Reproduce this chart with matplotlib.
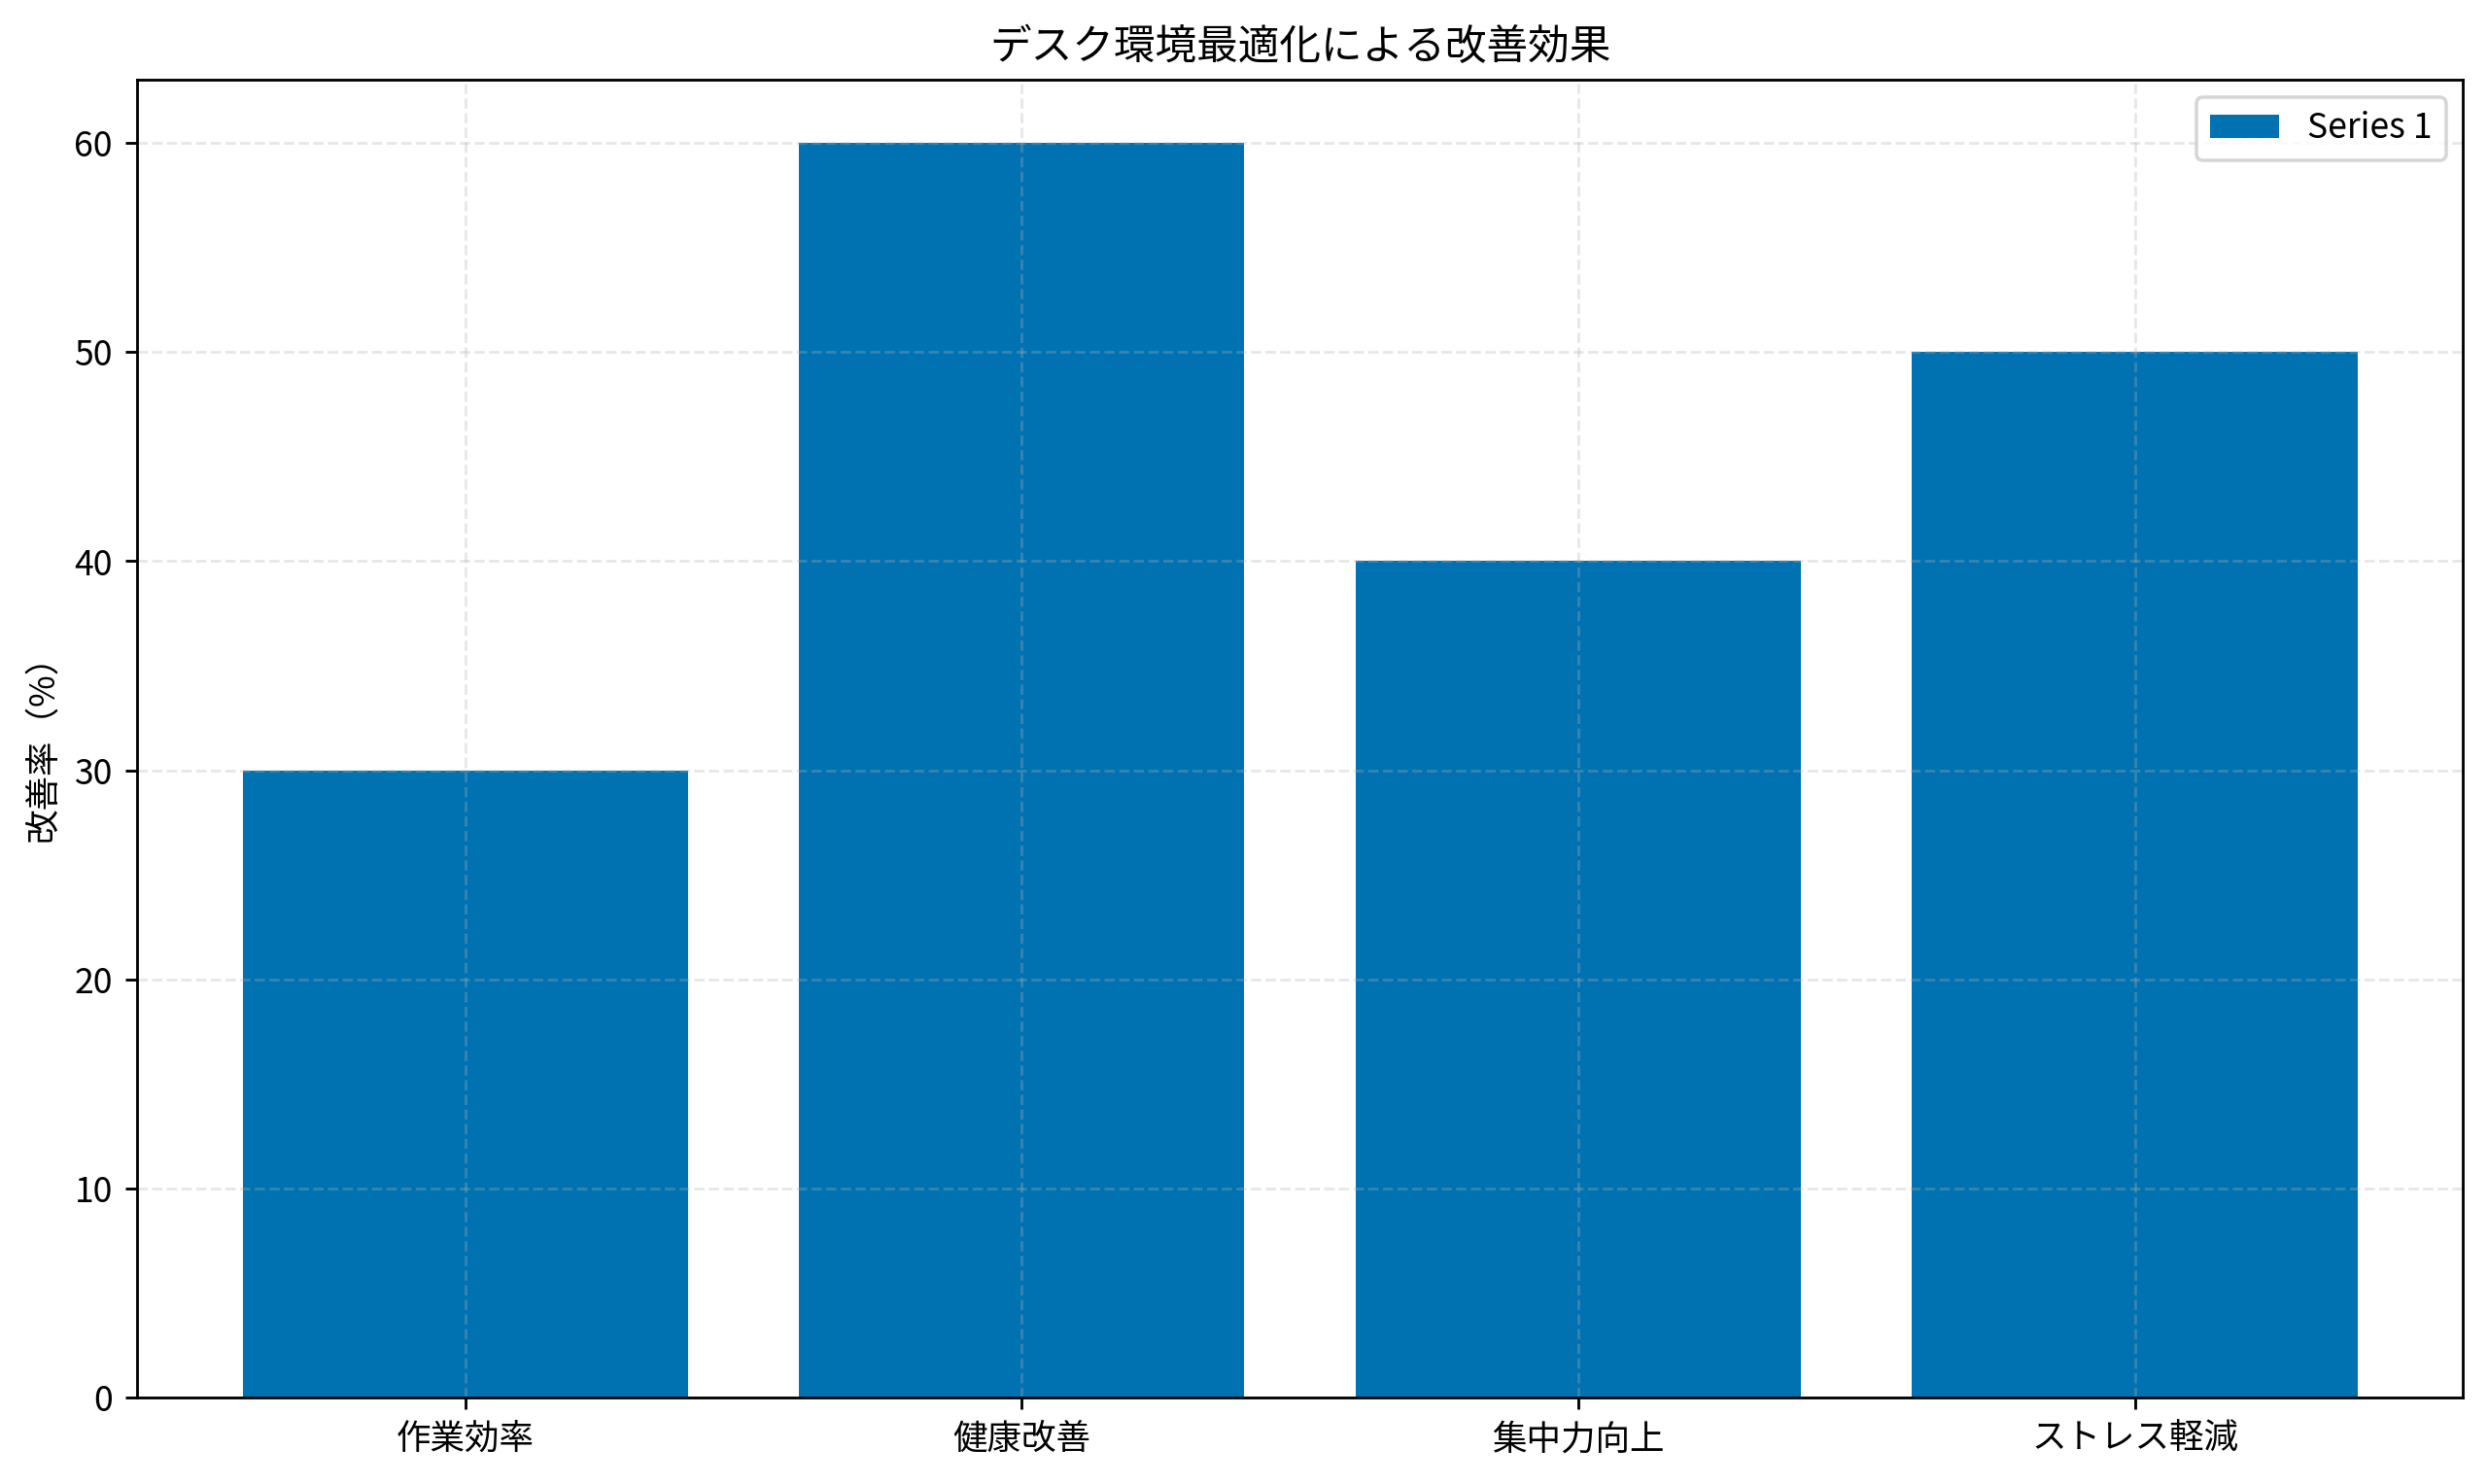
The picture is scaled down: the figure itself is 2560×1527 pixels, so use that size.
import matplotlib
matplotlib.use("Agg")
import matplotlib.pyplot as plt

plt.rcParams['font.family'] = ['Noto Sans CJK JP', 'DejaVu Sans']

# data
categories = ["作業効率", "健康改善", "集中力向上", "ストレス軽減"]
values = [30, 60, 40, 50]

fig, ax = plt.subplots(figsize=(10, 5.965), dpi=256)
fig.subplots_adjust(left=0.055, right=0.99, top=0.946, bottom=0.058)

ax.bar(categories, values, color="#0072B2", label="Series 1")
ax.set_title("デスク環境最適化による改善効果", fontsize=12)
ax.set_ylabel("改善率（%）", fontsize=10)
ax.grid(True, linestyle="--", alpha=0.3)
ax.legend(loc="upper right")

fig.savefig("out.png", dpi=256)
